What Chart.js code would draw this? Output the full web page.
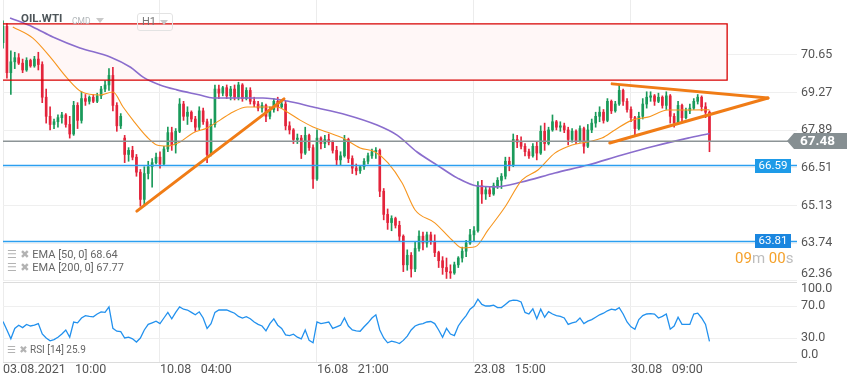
<!DOCTYPE html>
<html>
<head>
<meta charset="utf-8">
<script src="https://cdn.jsdelivr.net/npm/chart.js@4.4.1/dist/chart.umd.min.js"></script>
<style>
  html, body { margin: 0; padding: 0; background: #fff; }
  #wrap { position: relative; width: 859px; height: 385px; overflow: hidden; font-family: Roboto, sans-serif; }
  canvas { position: absolute; left: 0; }
  .txt { position: absolute; white-space: pre; line-height: 1; }
  .tri { position: absolute; width: 0; height: 0; border-left: 4px solid transparent; border-right: 4px solid transparent; border-top: 5px solid #c9c9c9; }
  .ico { font-family: "DejaVu Sans", sans-serif; color: #b3b3b3; }
</style>
</head>
<body>
<div id="wrap">
  <canvas id="priceChart" width="859" height="282" style="top:0"></canvas>
  <canvas id="rsiChart" width="859" height="103" style="top:282px"></canvas>

  <div class="txt" style="left:21px;top:13px;font-weight:bold;font-size:11.5px;color:#4d5559">OIL.WTI</div>
  <div class="txt" style="left:72px;top:17px;font-size:8.5px;color:#b4b9bc">CMD</div>
  <div class="tri" style="left:96px;top:18px"></div>
  <div style="position:absolute;left:137px;top:13px;width:34px;height:16px;border:1px solid #e3e3e3;border-radius:3px"></div>
  <div class="txt" style="left:142px;top:16px;font-size:11px;color:#777">H1</div>
  <div class="tri" style="left:160px;top:20px"></div>

  <div class="txt" style="left:7px;top:249px;font-size:11px;color:#666"><span class="ico">☰ ✖</span> EMA [50, 0] 68.64</div>
  <div class="txt" style="left:7px;top:262px;font-size:11px;color:#666"><span class="ico">☰ ✖</span> EMA [200, 0] 67.77</div>
  <div class="txt" style="left:7px;top:345px;font-size:10px;color:#666"><span class="ico">☰ ✖</span> RSI [14] 25.9</div>

  <div class="txt" style="left:735px;top:251px;font-size:15px"><span style="color:#f5a12a">09</span><span style="color:#bdbdbd">m </span><span style="color:#f5a12a">00</span><span style="color:#bdbdbd">s</span></div>
</div>
<script>
// x axis: candle index, one label every 40 candles
const tickIdx = [0, 40, 80, 120, 160];
const timeLabels = ["03.08.2021   10:00", "10.08   04:00", "16.08   21:00", "23.08   15:00", "30.08   09:00"];
const xMax = 202.3;

const priceTicks = [62.36, 63.74, 65.13, 66.51, 67.89, 69.27, 70.65];
const priceMin = 62.356;
const priceMax = 72.668;
const rsiTicks = [0, 30, 70, 100];

const opens = [
  71.10, 71.70, 70.00, 70.40, 70.55, 70.35, 70.10, 70.45, 70.25, 70.50,
  70.30, 69.10, 68.40, 68.10, 68.20, 68.35, 68.45, 68.10, 67.75, 68.80,
  68.25, 69.05, 68.95, 69.10, 68.95, 69.15, 69.40, 69.55, 69.90, 68.80,
  68.05, 67.60, 67.00, 67.15, 66.90, 66.35, 65.35, 66.30, 66.55, 66.70,
  66.90, 66.65, 67.20, 67.80, 67.35, 67.85, 68.85, 68.40, 68.55, 68.30,
  68.00, 68.60, 68.20, 67.00, 68.10, 69.40, 69.25, 69.45, 69.15, 69.40,
  69.10, 69.55, 69.05, 69.35, 68.95, 68.85, 68.70, 68.80, 68.40, 68.65,
  68.95, 68.75, 68.85, 68.05, 67.90, 67.55, 67.60, 67.05, 67.70, 67.25,
  66.10, 67.60, 67.40, 67.55, 67.45, 67.15, 66.80, 66.95, 67.55, 66.85,
  66.50, 66.40, 66.55, 66.75, 66.95, 67.10, 67.15, 65.65, 64.80, 64.50,
  64.65, 64.40, 64.00, 62.95, 63.30, 62.80, 63.55, 64.00, 63.75, 64.05,
  63.80, 63.40, 63.10, 62.85, 62.70, 62.65, 62.95, 63.20, 63.45, 63.75,
  64.05, 64.20, 65.85, 65.55, 65.70, 65.55, 65.85, 66.05, 66.20, 66.75,
  66.60, 67.55, 67.45, 67.30, 67.10, 66.95, 67.30, 67.05, 67.85, 67.40,
  67.90, 68.20, 68.00, 68.05, 67.90, 67.55, 67.85, 67.50, 67.95, 67.30,
  67.90, 68.15, 68.40, 68.55, 68.25, 68.95, 68.60, 68.85, 69.35, 68.95,
  68.65, 68.35, 67.95, 68.40, 68.85, 69.10, 69.15, 68.95, 69.10, 68.80,
  69.15, 68.40, 68.15, 68.80, 68.35, 68.60, 68.70, 68.95, 69.10, 68.75,
  68.55
];
const highs = [
  71.90, 71.80, 70.80, 70.75, 70.70, 70.50, 70.55, 70.50, 70.60, 70.75,
  70.40, 69.40, 68.75, 68.30, 68.45, 68.55, 68.50, 68.40, 68.95, 68.90,
  69.30, 69.20, 69.15, 69.20, 69.25, 69.50, 69.70, 70.15, 70.20, 68.90,
  68.50, 67.70, 67.25, 67.30, 67.00, 66.45, 66.55, 66.75, 66.85, 67.05,
  67.10, 67.30, 68.00, 68.00, 67.95, 69.05, 68.95, 68.75, 68.60, 68.40,
  68.75, 68.70, 68.30, 68.30, 69.55, 69.55, 69.50, 69.55, 69.50, 69.55,
  69.65, 69.60, 69.45, 69.45, 69.10, 68.95, 68.90, 68.85, 68.75, 69.05,
  69.10, 69.00, 68.95, 68.20, 67.95, 67.75, 67.70, 68.00, 67.75, 67.35,
  67.90, 67.65, 67.70, 67.75, 67.50, 67.30, 67.10, 67.70, 67.60, 66.95,
  66.65, 66.60, 66.85, 67.05, 67.20, 67.25, 67.20, 65.75, 65.00, 64.75,
  64.70, 64.55, 64.05, 63.50, 63.40, 63.80, 64.20, 64.15, 64.15, 64.15,
  64.05, 63.45, 63.25, 63.20, 62.95, 63.05, 63.25, 63.60, 63.85, 64.25,
  64.35, 66.00, 66.05, 65.80, 65.80, 65.95, 66.15, 66.30, 66.90, 66.90,
  67.75, 67.70, 67.65, 67.40, 67.20, 67.40, 67.45, 68.05, 68.15, 68.00,
  68.45, 68.25, 68.20, 68.15, 68.00, 67.95, 67.90, 68.05, 68.00, 68.10,
  68.30, 68.55, 68.75, 68.65, 69.05, 69.00, 68.95, 69.55, 69.40, 69.05,
  68.75, 68.40, 68.55, 69.05, 69.30, 69.30, 69.20, 69.25, 69.15, 69.30,
  69.20, 68.50, 68.95, 68.85, 68.70, 68.85, 69.05, 69.20, 69.15, 68.90,
  68.60
];
const lows = [
  70.90, 69.80, 69.20, 70.15, 70.30, 70.00, 70.05, 70.20, 70.20, 70.10,
  68.90, 68.15, 67.90, 67.95, 68.00, 68.15, 68.00, 67.60, 67.70, 67.95,
  68.15, 68.80, 68.85, 68.90, 68.90, 69.05, 69.30, 69.35, 68.60, 67.85,
  67.95, 66.70, 66.75, 66.80, 66.20, 65.10, 65.10, 66.10, 65.80, 66.65,
  66.50, 66.60, 67.10, 67.15, 67.05, 67.80, 68.25, 68.10, 68.20, 67.85,
  67.90, 68.10, 66.70, 66.95, 68.00, 69.05, 69.15, 69.05, 69.00, 69.00,
  69.00, 68.95, 69.00, 68.85, 68.75, 68.60, 68.55, 68.20, 68.30, 68.55,
  68.60, 68.70, 67.90, 67.75, 67.40, 67.40, 66.85, 67.00, 67.15, 65.75,
  66.05, 67.20, 67.25, 67.35, 67.05, 66.60, 66.60, 66.90, 66.70, 66.30,
  66.25, 66.30, 66.45, 66.65, 66.85, 66.85, 65.45, 64.60, 64.25, 64.20,
  64.30, 63.80, 62.70, 62.75, 62.50, 62.70, 63.45, 63.50, 63.60, 63.70,
  63.25, 62.85, 62.60, 62.45, 62.45, 62.60, 62.85, 63.05, 63.25, 63.70,
  63.80, 64.15, 65.20, 65.35, 65.45, 65.50, 65.75, 65.75, 66.10, 66.40,
  66.55, 67.25, 67.20, 66.95, 66.85, 66.90, 66.80, 67.00, 67.15, 67.35,
  67.85, 67.90, 67.85, 67.80, 67.35, 67.45, 67.40, 67.45, 67.05, 67.25,
  67.80, 68.00, 68.20, 68.15, 68.20, 68.50, 68.55, 68.80, 68.80, 68.55,
  68.20, 67.70, 67.90, 68.30, 68.70, 68.95, 68.80, 68.90, 68.70, 68.65,
  68.15, 68.00, 68.10, 68.20, 68.30, 68.50, 68.65, 68.85, 68.60, 68.35,
  67.10
];
const closes = [
  71.70, 70.00, 70.40, 70.55, 70.35, 70.10, 70.45, 70.25, 70.50, 70.30,
  69.10, 68.40, 68.10, 68.20, 68.35, 68.45, 68.10, 67.75, 68.80, 68.25,
  69.05, 68.95, 69.10, 68.95, 69.15, 69.40, 69.55, 69.90, 68.80, 68.05,
  68.40, 67.00, 67.15, 66.90, 66.35, 65.35, 66.30, 66.55, 66.70, 66.90,
  66.65, 67.20, 67.80, 67.35, 67.85, 68.85, 68.40, 68.55, 68.30, 68.00,
  68.60, 68.20, 67.00, 68.10, 69.40, 69.25, 69.45, 69.15, 69.40, 69.10,
  69.55, 69.05, 69.35, 68.95, 68.85, 68.70, 68.80, 68.40, 68.65, 68.95,
  68.75, 68.85, 68.05, 67.90, 67.55, 67.60, 67.05, 67.70, 67.25, 66.10,
  67.60, 67.40, 67.55, 67.45, 67.15, 66.80, 66.95, 67.55, 66.85, 66.50,
  66.40, 66.55, 66.75, 66.95, 67.10, 67.15, 65.65, 64.80, 64.50, 64.65,
  64.40, 64.00, 62.95, 63.30, 62.80, 63.55, 64.00, 63.75, 64.05, 63.80,
  63.40, 63.10, 62.85, 62.70, 62.65, 62.95, 63.20, 63.45, 63.75, 64.05,
  64.20, 65.85, 65.55, 65.70, 65.55, 65.85, 66.05, 66.20, 66.75, 66.60,
  67.55, 67.45, 67.30, 67.10, 66.95, 67.30, 67.05, 67.85, 67.40, 67.90,
  68.20, 68.00, 68.05, 67.90, 67.55, 67.85, 67.50, 67.95, 67.30, 67.90,
  68.15, 68.40, 68.55, 68.25, 68.95, 68.60, 68.85, 69.35, 68.95, 68.65,
  68.35, 67.95, 68.40, 68.85, 69.10, 69.15, 68.95, 69.10, 68.80, 69.15,
  68.40, 68.15, 68.80, 68.35, 68.60, 68.70, 68.95, 69.10, 68.75, 68.55,
  67.48
];

const rsi = [
  50.6, 40, 29, 42, 46, 43, 47, 45, 46, 48,
  35, 30, 26.5, 28, 31, 35, 40, 31, 50, 49,
  55, 58, 57, 56.5, 60, 62.7, 62, 68.8, 42, 38.5,
  38, 30, 31, 29, 25, 30, 40, 47, 49, 51,
  48, 55, 62, 54, 62, 68.8, 66, 65, 62, 59,
  62.7, 55, 42, 48, 62, 65.2, 65, 65.2, 63, 61,
  57, 55, 56.7, 54, 50, 47, 45, 39, 48, 54,
  46, 42, 34, 33, 34.8, 31, 28.8, 40, 27, 24,
  50, 48, 49, 50, 42, 44, 46, 55, 45, 40,
  39, 38.5, 44, 49, 55, 59, 40, 30, 24, 26,
  25, 23, 27, 32.4, 40, 45, 47, 48, 50, 50.6,
  48, 40, 31, 42, 35, 33, 45, 52, 58, 66,
  70, 78.5, 72, 70, 70, 71, 68, 68, 72, 76,
  77.3, 77, 75, 62, 60, 66.4, 54, 66, 56, 63,
  60, 58, 57, 55, 47, 49, 50, 55, 48, 51,
  53, 56, 59, 61, 64, 66, 65, 68, 60, 50,
  44, 41, 53, 58, 60, 60.5, 60, 55, 57, 60,
  41, 45, 56, 47, 47, 47, 60, 61, 55, 47,
  25.9
];

// EMA readings (candle index, price)
const ema50Idx = [2.5, 7.6, 12, 16.3, 20.1, 24.7, 28, 30.6, 33.1, 36.7, 39.2, 41.8, 45.1, 48.4, 52, 55.3, 58.6, 62.2, 65.5, 69.8, 72.4, 75.7, 79, 82.5, 86.6, 91, 94.8, 98.1, 101.7, 105, 110, 114.4, 117, 120.3, 123.6, 127.9, 132.2, 136.3, 140.6, 145, 149, 152.6, 155.9, 160.3, 164.3, 169.4, 174.5, 180];
const ema50Val = [71.68, 71.27, 70.58, 69.81, 69.29, 69.18, 69.29, 68.74, 68.26, 67.64, 67.35, 67.31, 67.46, 67.79, 67.97, 68.26, 68.56, 68.74, 68.74, 68.74, 68.56, 68.26, 68.01, 67.82, 67.60, 67.24, 67.09, 66.69, 65.95, 64.96, 64.49, 63.86, 63.57, 63.61, 64.23, 65.07, 66.06, 66.43, 67.05, 67.35, 67.46, 67.60, 67.90, 68.26, 68.37, 68.63, 68.63, 68.64];
const ema200Idx = [1.8, 7.6, 12.7, 19.6, 27.3, 32.5, 35.7, 40, 44.3, 50.2, 53.5, 60.4, 66.2, 72.4, 79, 87.6, 95.3, 100.4, 105.5, 110.6, 115.7, 120.8, 125.4, 132.2, 140.6, 149, 157.7, 166.1, 174.5, 180];
const ema200Val = [72.01, 71.68, 71.31, 70.91, 70.58, 70.20, 69.84, 69.55, 69.37, 69.18, 69.07, 69.07, 69.07, 68.96, 68.74, 68.45, 68.08, 67.71, 67.09, 66.61, 66.14, 65.84, 65.81, 65.99, 66.32, 66.61, 66.98, 67.31, 67.60, 67.77];

// drawn objects (candle index, price)
const trendUpIdx = [34.1, 71.6];
const trendUpVal = [64.92, 69.04];
const triTopIdx = [155.2, 194.9];
const triTopVal = [69.59, 69.07];
const triLowIdx = [154.6, 194.9];
const triLowVal = [67.42, 69.07];

const zoneIdx = [0, 184.5];
const zoneVal = [69.73, 71.79];
const levels = [66.59, 63.81];
const levelColors = ["#1e9be8", "#1a86df"];
const lastPrice = 67.48;

const GREEN = "#1a9a5a";
const RED = "#e3243b";
const FONT = "Roboto";

const pts = (xs, ys) => xs.map((x, i) => ({ x, y: ys[i] }));
const candleColor = (ctx) =>
  closes[ctx.dataIndex] >= opens[ctx.dataIndex] ? GREEN : RED;

const axisLabels = (values, fmt) => ({
  id: "axisLabels",
  afterDraw(chart) {
    const { ctx, chartArea, scales } = chart;
    ctx.save();
    ctx.font = "12.5px " + FONT;
    ctx.fillStyle = "#555";
    ctx.textBaseline = "middle";
    values.forEach((v) => {
      let py = scales.y.getPixelForValue(v);
      py = Math.min(Math.max(py, chartArea.top + 7), chartArea.bottom - 7);
      ctx.fillText(fmt(v), chartArea.right + 4, py);
    });
    ctx.restore();
  },
});

const overlay = {
  id: "overlay",
  beforeDatasetsDraw(chart) {
    const { ctx, scales: { x, y } } = chart;
    const l = x.getPixelForValue(zoneIdx[0]);
    const r = x.getPixelForValue(zoneIdx[1]);
    const t = y.getPixelForValue(zoneVal[1]);
    const b = y.getPixelForValue(zoneVal[0]);
    ctx.save();
    ctx.fillStyle = "#fff7f7";
    ctx.fillRect(l, t, r - l, b - t);
    ctx.restore();
  },
  afterDatasetsDraw(chart) {
    const { ctx, scales: { x, y } } = chart;
    const l = x.getPixelForValue(zoneIdx[0]);
    const r = x.getPixelForValue(zoneIdx[1]);
    const t = y.getPixelForValue(zoneVal[1]);
    const b = y.getPixelForValue(zoneVal[0]);
    ctx.save();
    ctx.strokeStyle = "#d80000";
    ctx.lineWidth = 1.3;
    ctx.beginPath();
    ctx.moveTo(l, t);
    ctx.lineTo(r, t);
    ctx.lineTo(r, b);
    ctx.lineTo(l, b);
    ctx.stroke();
    ctx.restore();
  },
  afterDraw(chart) {
    const { ctx, chartArea, scales: { y } } = chart;
    ctx.save();
    ctx.textBaseline = "middle";
    // level tags
    levels.forEach((lv, i) => {
      const py = Math.round(y.getPixelForValue(lv));
      ctx.fillStyle = levelColors[i];
      ctx.fillRect(chartArea.right - 42, py - 7, 36, 14);
      ctx.fillStyle = "#fff";
      ctx.font = "11.5px " + FONT;
      ctx.textAlign = "center";
      ctx.fillText(lv.toFixed(2), chartArea.right - 24, py);
    });
    // last price tag
    const py = Math.round(y.getPixelForValue(lastPrice));
    const x0 = chartArea.right - 10;
    ctx.fillStyle = "#868f92";
    ctx.beginPath();
    ctx.moveTo(x0, py);
    ctx.lineTo(x0 + 7, py - 8);
    ctx.lineTo(x0 + 60, py - 8);
    ctx.lineTo(x0 + 60, py + 8);
    ctx.lineTo(x0 + 7, py + 8);
    ctx.closePath();
    ctx.fill();
    ctx.fillStyle = "#fff";
    ctx.font = "bold 13.5px " + FONT;
    ctx.textAlign = "left";
    ctx.fillText(lastPrice.toFixed(2), x0 + 13, py + 1);
    ctx.restore();
  },
};

const lineDs = (data, color, width, order, extra = {}) => ({
  type: "line",
  data,
  borderColor: color,
  borderWidth: width,
  pointRadius: 0,
  fill: false,
  order,
  ...extra,
});

new Chart(document.getElementById("priceChart"), {
  type: "bar",
  data: {
    datasets: [
      {
        label: "wick",
        data: lows.map((l, i) => ({ x: i, y: [l, highs[i]] })),
        backgroundColor: candleColor,
        barThickness: 1,
        grouped: false,
        order: 10,
      },
      {
        label: "body",
        data: opens.map((o, i) => ({ x: i, y: [o, closes[i]] })),
        backgroundColor: candleColor,
        barThickness: 2,
        minBarLength: 1,
        grouped: false,
        order: 9,
      },
      lineDs(pts(ema200Idx, ema200Val), "#8a6dcd", 1.6, 8, { tension: 0.4, cubicInterpolationMode: "monotone" }),
      lineDs(pts(ema50Idx, ema50Val), "#f7961f", 1.1, 7, { tension: 0.4, cubicInterpolationMode: "monotone" }),
      lineDs(pts([0, xMax], [levels[0], levels[0]]), "#2c9ff0", 1.5, 6),
      lineDs(pts([0, xMax], [levels[1], levels[1]]), "#2c9ff0", 1.5, 6),
      lineDs(pts([0, xMax], [lastPrice, lastPrice]), "#8c9496", 1.5, 6),
      lineDs(pts(trendUpIdx, trendUpVal), "#f07c16", 3, 5, { borderCapStyle: "round" }),
      lineDs(pts(triTopIdx, triTopVal), "#f07c16", 3, 5, { borderCapStyle: "round" }),
      lineDs(pts(triLowIdx, triLowVal), "#f07c16", 3, 5, { borderCapStyle: "round" }),
    ],
  },
  options: {
    responsive: false,
    animation: false,
    devicePixelRatio: 1,
    layout: { padding: { left: 3, right: 0, top: 0, bottom: 0 } },
    plugins: { legend: { display: false }, tooltip: { enabled: false } },
    scales: {
      x: {
        type: "linear",
        min: 0,
        max: xMax,
        offset: false,
        afterBuildTicks: (s) => { s.ticks = tickIdx.map((v) => ({ value: v })); },
        afterFit: (s) => { s.height = 1; },
        ticks: { display: false },
        grid: { color: "#ececec", drawTicks: false, offset: false },
        border: { display: false },
      },
      y: {
        position: "right",
        min: priceMin,
        max: priceMax,
        afterBuildTicks: (s) => { s.ticks = priceTicks.map((v) => ({ value: v })); },
        afterFit: (s) => { s.width = 62; },
        ticks: { display: false },
        grid: { color: "#efefef", drawTicks: false },
        border: { display: false },
      },
    },
  },
  plugins: [overlay, axisLabels(priceTicks, (v) => v.toFixed(2))],
});

new Chart(document.getElementById("rsiChart"), {
  type: "line",
  data: {
    datasets: [
      {
        data: rsi.map((v, i) => ({ x: i, y: v })),
        borderColor: "#2291ee",
        borderWidth: 1.3,
        pointRadius: 0,
        fill: false,
        tension: 0,
      },
    ],
  },
  options: {
    responsive: false,
    animation: false,
    devicePixelRatio: 1,
    layout: { padding: { left: 3, right: 0, top: 0, bottom: 0 } },
    plugins: { legend: { display: false }, tooltip: { enabled: false } },
    scales: {
      x: {
        type: "linear",
        min: 0,
        max: xMax,
        afterBuildTicks: (s) => { s.ticks = tickIdx.map((v) => ({ value: v })); },
        afterFit: (s) => { s.height = 23; },
        ticks: {
          align: "start",
          padding: 0,
          maxRotation: 0,
          autoSkip: false,
          color: "#555",
          font: { family: FONT, size: 12.5 },
          callback: (v) => timeLabels[tickIdx.indexOf(v)],
        },
        grid: { color: "#ececec", drawTicks: false },
        border: { display: false },
      },
      y: {
        position: "right",
        min: 0,
        max: 100,
        afterBuildTicks: (s) => { s.ticks = rsiTicks.map((v) => ({ value: v })); },
        afterFit: (s) => { s.width = 62; },
        ticks: { display: false },
        grid: {
          drawTicks: false,
          color: (c) => (c.tick && (c.tick.value === 30 || c.tick.value === 70) ? "#efefef" : "#dcdcdc"),
        },
        border: { display: false },
      },
    },
  },
  plugins: [axisLabels(rsiTicks, (v) => v.toFixed(1))],
});
</script>
</body>
</html>
